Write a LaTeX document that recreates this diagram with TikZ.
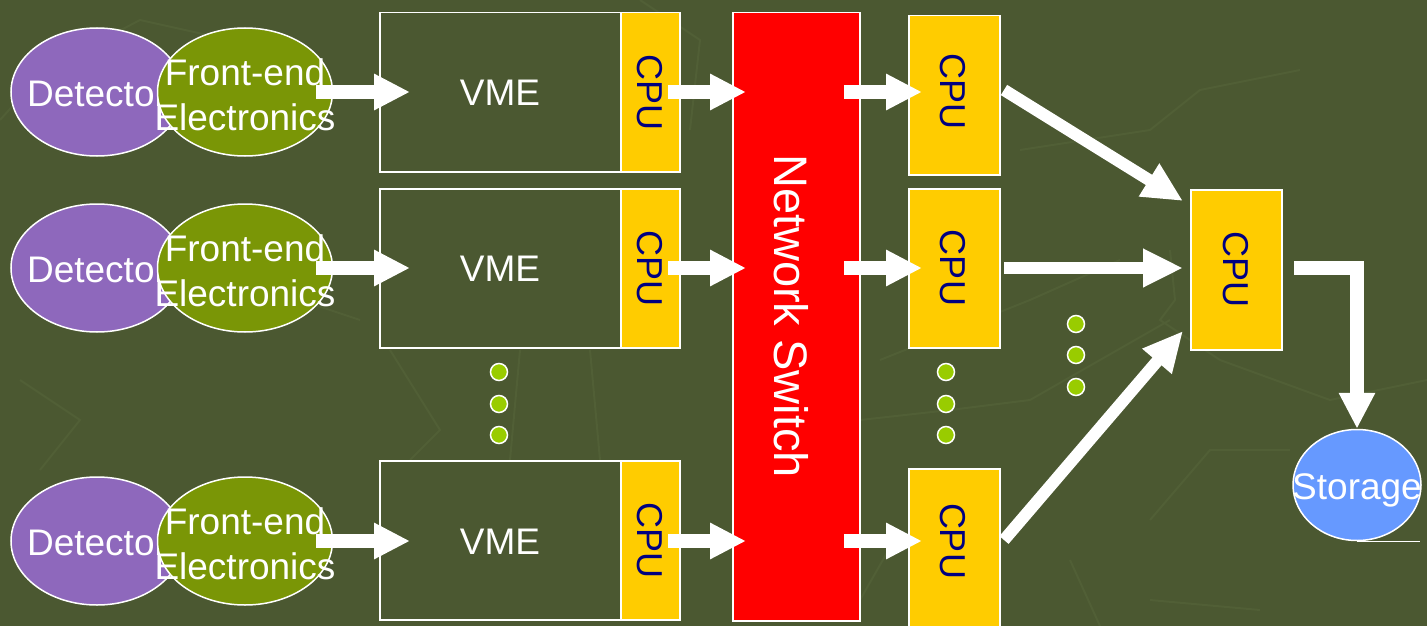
\documentclass[tikz,border=0pt]{standalone}
\usepackage{fontspec}
\setmainfont{Liberation Sans}
\usetikzlibrary{arrows.meta,shapes.geometric}
\definecolor{bg}{HTML}{4B5831}
\definecolor{bgline}{HTML}{515F36}
\definecolor{det}{HTML}{8E68BC}
\definecolor{fee}{HTML}{7A9606}
\definecolor{cpuy}{HTML}{FFCC00}
\definecolor{navy}{HTML}{000080}
\definecolor{dotg}{HTML}{99CC00}
\definecolor{stor}{HTML}{6699FF}
\begin{document}
\begin{tikzpicture}[x=1pt,y=-1pt,
  ellbase/.style={ellipse, draw=white, line width=1.5pt, inner sep=0pt, minimum width=172pt, minimum height=128pt},
  detell/.style={ellbase, fill=det},
  feell/.style={ellbase, fill=fee, minimum width=175pt},
  wtxt/.style={text=white, font=\fontsize{37}{45}\selectfont, align=center, inner sep=0pt},
  vmebox/.style={draw=white, line width=1.5pt, fill=bg, minimum width=241pt, minimum height=159pt, inner sep=0pt, anchor=north west},
  cpubox/.style={draw=white, line width=1.5pt, fill=cpuy, inner sep=0pt, anchor=north west},
  cputxt/.style={text=navy, rotate=-90, font=\fontsize{36}{40}\selectfont, inner sep=0pt},
  blk/.style={draw=white, line width=14pt, -{Triangle[length=36pt,width=34pt]}},
  diag/.style={draw=white, line width=12pt, -{Triangle[length=40pt,width=36pt]}},
  dotn/.style={circle, fill=dotg, draw=white, line width=1.5pt, minimum size=17pt, inner sep=0pt},
]
\useasboundingbox (0,0) rectangle (1427,626);
\fill[bg] (0,0) rectangle (1427,626);
% faint background pattern
\begin{scope}[draw=bgline, line width=2pt]
\draw (0,120) -- (45,70) -- (140,20) -- (230,40);
\draw (640,0) -- (700,40) -- (690,130);
\draw (1020,150) -- (1150,130) -- (1200,90) -- (1300,70);
\draw (1170,250) -- (1175,300) -- (1160,320) -- (1220,360) -- (1330,400) -- (1427,380);
\draw (1150,520) -- (1210,450) -- (1290,450);
\draw (1150,600) -- (1260,610);
\draw (880,360) -- (930,340) -- (1030,300) -- (1120,260);
\draw (860,420) -- (950,410) -- (1030,400) -- (1100,360) -- (1170,320);
\draw (390,350) -- (440,430) -- (410,460);
\draw (20,380) -- (80,420) -- (40,470);
\draw (520,350) -- (510,460);
\draw (590,350) -- (600,460);
\draw (240,330) -- (300,300) -- (360,320);
\draw (900,530) -- (860,600);
\draw (1070,560) -- (1100,626);
\end{scope}

% network switch
\node[draw=white, line width=1.5pt, fill=red, minimum width=127pt, minimum height=608pt, inner sep=0pt, anchor=north west] (sw) at (732,12) {};
\node[text=white, rotate=-90, font=\fontsize{47}{50}\selectfont, inner sep=0pt] (swt) at (791,316) {Network Switch};

% rows
\foreach \r/\y/\t in {1/92/12, 2/268/188, 3/541/460} {
  \node[detell] (d\r) at (97,\y) {};
  \node[wtxt] (dt\r) at ([yshift=-2pt]d\r.center) {Detector};
  \node[feell] (f\r) at (245,\y) {};
  \node[wtxt] (ft\r) at ([yshift=-3pt]f\r.center) {Front-end\\Electronics};
  \node[vmebox] (v\r) at (379,\t) {};
  \node[wtxt] (vt\r) at (500,\y+1) {VME};
  \node[cpubox, minimum width=59pt, minimum height=159pt] (c\r) at (620,\t) {};
  \node[cputxt] (ct\r) at (c\r.center) {CPU};
  \coordinate (fa\r) at (316,\y);
  \coordinate (va\r) at (410,\y);
  \draw[blk] (fa\r) -- (va\r);
  \coordinate (ca\r) at (668,\y);
  \coordinate (sa\r) at (746,\y);
  \draw[blk] (ca\r) -- (sa\r);
}

% second CPU column
\foreach \r/\y/\t in {1/92/15, 2/268/188, 3/541/468} {
  \node[cpubox, minimum width=91pt, minimum height=159pt] (p\r) at (908,\t) {};
  \node[cputxt] (pt\r) at (953,\y) {CPU};
  \coordinate (so\r) at (844,\y);
  \coordinate (pi\r) at (922,\y);
  \draw[blk] (so\r) -- (pi\r);
}

% final CPU
\node[cpubox, minimum width=91pt, minimum height=160pt] (q) at (1190,189) {};
\node[cputxt] (qt) at (q.center) {CPU};

\coordinate (o1) at (1004,90);
\coordinate (i1) at (1183,201);
\coordinate (o2) at (1004,268);
\coordinate (i2) at (1183,268);
\coordinate (o3) at (1004,540);
\coordinate (i3) at (1183,331);
\draw[diag] (o1) -- (i1);
\draw[diag] (o2) -- (i2);
\draw[diag] (o3) -- (i3);

% storage
\node[ellipse, draw=white, line width=1.5pt, fill=stor, minimum width=128pt, minimum height=111pt, inner sep=0pt] (st) at (1357,485) {};
\node[wtxt] (stt) at ([yshift=-5pt]st.center) {Storage};
\draw[white, line width=1.5pt] (st.south) -- ++(63,0);

\coordinate (qo) at (1294,268);
\draw[blk, line join=miter] (qo) -| (st.north);

% dots
\foreach \i/\x/\y in {1/499/372, 2/499/404, 3/499/435, 4/946/372, 5/946/404, 6/946/435, 7/1076/324, 8/1076/355, 9/1076/387} {
  \node[dotn] (dot\i) at (\x,\y) {};
}
\end{tikzpicture}
\end{document}
